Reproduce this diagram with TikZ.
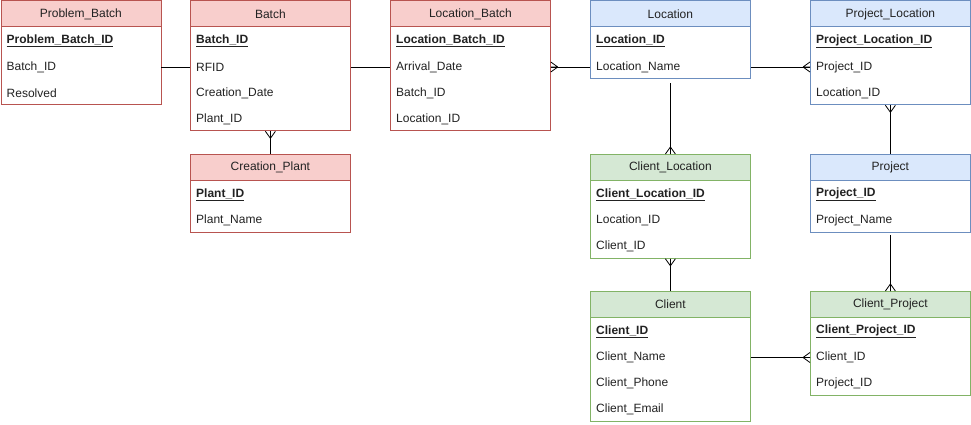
\documentclass[tikz,border=0pt]{standalone}
\usepackage{fontspec}
\setmainfont{Liberation Sans}
\definecolor{redfill}{HTML}{F8CECC}\definecolor{redline}{HTML}{B85450}
\definecolor{bluefill}{HTML}{DAE8FC}\definecolor{blueline}{HTML}{6C8EBF}
\definecolor{greenfill}{HTML}{D5E8D4}\definecolor{greenline}{HTML}{82B366}
\definecolor{txt}{HTML}{222222}
\tikzset{
  hdr/.style={draw=#1line, fill=#1fill, line width=0.8pt, minimum width=160pt, minimum height=26pt, inner sep=0pt, font=\fontsize{12}{14}\selectfont, text=txt},
  bodybox/.style={draw=#1line, fill=white, line width=0.8pt, minimum width=160pt, inner sep=0pt},
  rowtext/.style={inner sep=0pt, font=\fontsize{12}{14}\selectfont, text=txt},
  conn/.style={draw=black, line width=0.8pt},
  pics/crow/.style={code={\draw[conn] (7,0) -- (0,5) (7,0) -- (0,-5) (7,0) -- (0,0);}}
}
\newcommand\ertable[8]{%
  \node[hdr=#4, anchor=north west] (#1) at (#2,#3) {#5};
  \node[bodybox=#4, anchor=north west, minimum height={26*(#7+1)*1pt}] (#1-body) at (#2,#3+26) {};
  \node[rowtext, anchor=west] (#1-key) at (#2+6,#3+40.5) {\underline{\textbf{#6}}};
  \foreach \r [count=\i] in {#8} {\node[rowtext, anchor=west] (#1-r\i) at (#2+6,#3+40.5+26*\i) {\r};}
}
\begin{document}
\begin{tikzpicture}[x=1pt,y=-1pt]
\useasboundingbox (0,0) rectangle (971,425);
\ertable{pb}{0.5}{0.5}{red}{Problem\_Batch}{Problem\_Batch\_ID}{2}{Batch\_ID,Resolved}
\ertable{ba}{190}{0.5}{red}{Batch}{Batch\_ID}{3}{RFID,Creation\_Date,Plant\_ID}
\ertable{lb}{390}{0.5}{red}{Location\_Batch}{Location\_Batch\_ID}{3}{Arrival\_Date,Batch\_ID,Location\_ID}
\ertable{lo}{590}{0.5}{blue}{Location}{Location\_ID}{1}{Location\_Name}
\ertable{pl}{810}{0.5}{blue}{Project\_Location}{Project\_Location\_ID}{2}{Project\_ID,Location\_ID}
\ertable{cp}{190}{154}{red}{Creation\_Plant}{Plant\_ID}{1}{Plant\_Name}
\ertable{cl}{590}{154}{green}{Client\_Location}{Client\_Location\_ID}{2}{Location\_ID,Client\_ID}
\ertable{pr}{810}{154}{blue}{Project}{Project\_ID}{1}{Project\_Name}
\ertable{cli}{590}{291}{green}{Client}{Client\_ID}{3}{Client\_Name,Client\_Phone,Client\_Email}
\ertable{cpr}{810}{291}{green}{Client\_Project}{Client\_Project\_ID}{2}{Client\_ID,Project\_ID}
% connectors
\draw[conn] (pb-body.east |- pb-r1) -- (ba-body.west |- pb-r1);
\draw[conn] (ba-body.east |- ba-r1) -- (lb-body.west |- ba-r1);
\draw[conn] (lb-body.east |- lb-r1) -- (lo-body.west |- lb-r1);
\pic[rotate=0] at (lb-body.east |- lb-r1) {crow};
\draw[conn] (lo-body.east |- lo-r1) -- (pl-body.west |- lo-r1);
\pic[rotate=180] at (pl-body.west |- lo-r1) {crow};
\draw[conn] (ba-body.south) -- (cp.north);
\pic[rotate=270] at (ba-body.south) {crow};
\draw[conn] ([yshift=-4pt]lo-body.south) -- (cl.north);
\pic[rotate=90] at (cl.north) {crow};
\draw[conn] (cl-body.south) -- (cli.north);
\pic[rotate=270] at (cl-body.south) {crow};
\draw[conn] (pl-body.south) -- (pr.north);
\pic[rotate=270] at (pl-body.south) {crow};
\draw[conn] ([yshift=-2pt]pr-body.south) -- (cpr.north);
\pic[rotate=90] at (cpr.north) {crow};
\draw[conn] (cli-body.east |- cpr-r1) -- (cpr-body.west |- cpr-r1);
\pic[rotate=180] at (cpr-body.west |- cpr-r1) {crow};
\end{tikzpicture}
\end{document}
